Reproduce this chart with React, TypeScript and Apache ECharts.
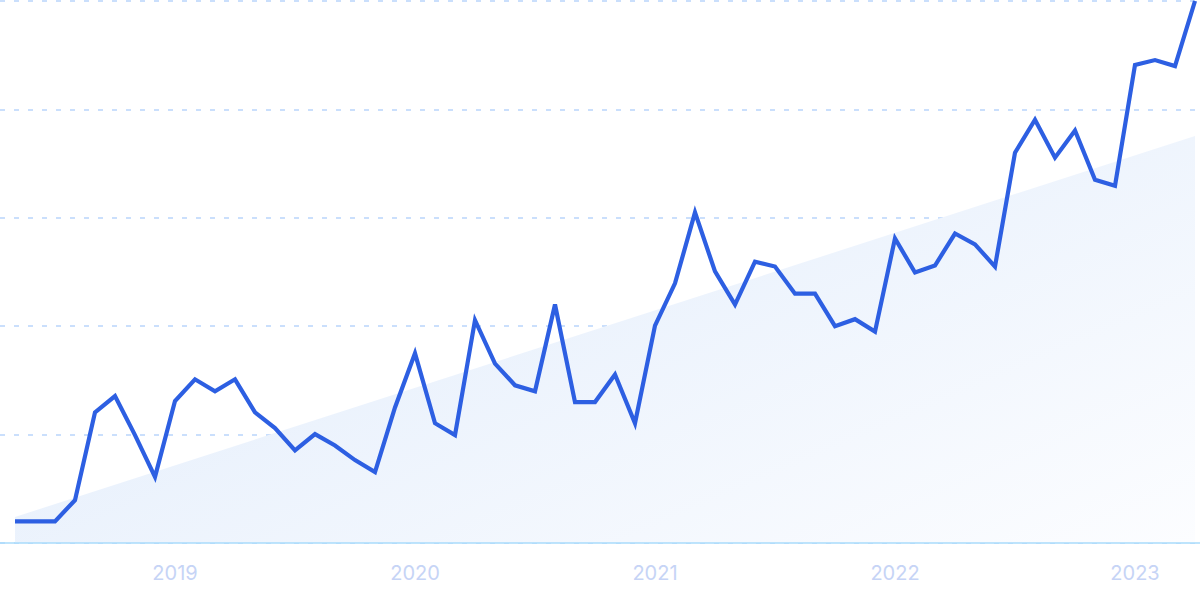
import React, { useEffect, useRef } from "react";
import * as echarts from "echarts";

const months: string[] = [
  "2018-05", "2018-06", "2018-07", "2018-08", "2018-09", "2018-10", "2018-11", "2018-12",
  "2019-01", "2019-02", "2019-03", "2019-04", "2019-05", "2019-06", "2019-07", "2019-08", "2019-09", "2019-10", "2019-11", "2019-12",
  "2020-01", "2020-02", "2020-03", "2020-04", "2020-05", "2020-06", "2020-07", "2020-08", "2020-09", "2020-10", "2020-11", "2020-12",
  "2021-01", "2021-02", "2021-03", "2021-04", "2021-05", "2021-06", "2021-07", "2021-08", "2021-09", "2021-10", "2021-11", "2021-12",
  "2022-01", "2022-02", "2022-03", "2022-04", "2022-05", "2022-06", "2022-07", "2022-08", "2022-09", "2022-10", "2022-11", "2022-12",
  "2023-01", "2023-02", "2023-03", "2023-04",
];

const interest: number[] = [
  4, 4, 4, 7.9, 24.1, 27.1, 19.9, 12.2,
  26.2, 30.2, 28.0, 30.2, 24.1, 21.2, 17.1, 20.1, 18.0, 15.3, 13.1, 25.0,
  35.0, 22.1, 19.9, 41.1, 33.1, 29.1, 28.0, 44.0, 26.0, 26.0, 31.1, 22.1,
  40.1, 47.9, 61.0, 50.1, 44.0, 51.9, 51.0, 46.0, 46.0, 40.0, 41.3, 39.0,
  56.2, 49.9, 51.2, 57.1, 55.1, 51.0, 72.0, 78.1, 71.1, 76.1, 67.0, 65.9,
  88.2, 89.1, 88.0, 100,
];

const trendStart = 4.8;
const trendEnd = 75.1;

export default function App() {
  const ref = useRef<HTMLDivElement>(null);
  useEffect(() => {
    if (!ref.current) return;
    const chart = echarts.init(ref.current, undefined, { renderer: "svg" });
    chart.setOption({
      animation: false,
      grid: [
        { left: 0, right: 0, top: 1, bottom: 57 },
        { left: 15, right: 5, top: 1, bottom: 57 },
      ],
      xAxis: [
        {
          gridIndex: 0,
          type: "value",
          min: 0,
          max: 1,
          axisLine: { show: true, onZero: false, lineStyle: { color: "#a9dbfb", width: 1.5 } },
          axisTick: { show: false },
          axisLabel: { show: false },
          splitLine: { show: false },
          z: 5,
        },
        {
          gridIndex: 1,
          type: "category",
          data: months,
          boundaryGap: false,
          axisLine: { show: false },
          axisTick: { show: false },
          splitLine: { show: false },
          axisLabel: {
            interval: (_i: number, v: string) => v.endsWith("-01"),
            formatter: (v: string) => v.slice(0, 4),
            color: "#c6d4f6",
            fontSize: 20,
            fontFamily: "Inter",
            margin: 20,
          },
        },
      ],
      yAxis: [
        {
          gridIndex: 0,
          type: "value",
          min: 0,
          max: 100,
          interval: 20,
          axisLabel: { show: false },
          axisLine: { show: false },
          axisTick: { show: false },
          splitLine: { show: true, lineStyle: { color: "#b9d5fb", type: [5, 9], width: 1.5 } },
        },
        {
          gridIndex: 1,
          type: "value",
          min: 0,
          max: 100,
          interval: 20,
          axisLabel: { show: false },
          axisLine: { show: false },
          axisTick: { show: false },
          splitLine: { show: false },
        },
      ],
      series: [
        {
          type: "line",
          xAxisIndex: 1,
          yAxisIndex: 1,
          data: [
            [months[0], trendStart],
            [months[months.length - 1], trendEnd],
          ],
          symbol: "none",
          lineStyle: { width: 0 },
          areaStyle: {
            opacity: 1,
            color: new echarts.graphic.LinearGradient(0, 0.2, 1, 1, [
              { offset: 0, color: "#e1ecfb" },
              { offset: 1, color: "#fcfdff" },
            ]),
          },
          silent: true,
          z: 1,
        },
        {
          type: "line",
          xAxisIndex: 1,
          yAxisIndex: 1,
          data: interest,
          symbol: "none",
          lineStyle: { color: "#2d5fe2", width: 4.2, join: "miter" },
          z: 3,
        },
      ],
    });
    return () => chart.dispose();
  }, []);
  return <div ref={ref} style={{ width: 1200, height: 600, position: "absolute", left: 0, top: 0 }} />;
}
